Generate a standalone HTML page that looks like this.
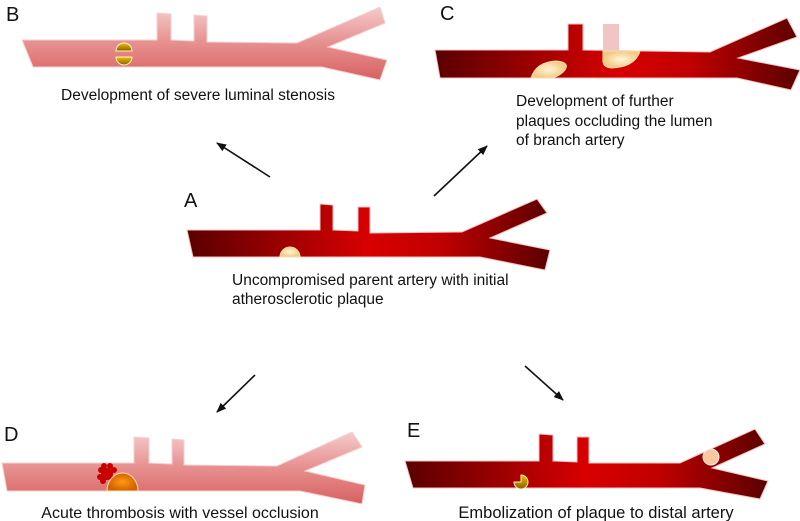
<!DOCTYPE html>
<html><head><meta charset="utf-8"><style>
html,body{margin:0;padding:0;background:#fff;width:800px;height:521px;overflow:hidden}
svg text{font-family:"Liberation Sans",sans-serif;fill:#111}
</style></head><body>
<svg width="800" height="521" viewBox="0 0 800 521" xmlns="http://www.w3.org/2000/svg">
<defs>
<linearGradient id="dA" gradientUnits="userSpaceOnUse" x1="187" y1="0" x2="550" y2="0">
<stop offset="0" stop-color="#5a0000"/><stop offset="0.5" stop-color="#d80000"/><stop offset="0.7" stop-color="#c00000"/><stop offset="1" stop-color="#5a0000"/></linearGradient>
<linearGradient id="dC" gradientUnits="userSpaceOnUse" x1="435" y1="0" x2="800" y2="0">
<stop offset="0" stop-color="#5a0000"/><stop offset="0.5" stop-color="#d80000"/><stop offset="0.7" stop-color="#c00000"/><stop offset="1" stop-color="#5a0000"/></linearGradient>
<linearGradient id="dE" gradientUnits="userSpaceOnUse" x1="405" y1="0" x2="768" y2="0">
<stop offset="0" stop-color="#5a0000"/><stop offset="0.5" stop-color="#d80000"/><stop offset="0.7" stop-color="#c00000"/><stop offset="1" stop-color="#5a0000"/></linearGradient>
<linearGradient id="pB" gradientUnits="userSpaceOnUse" x1="0" y1="7" x2="0" y2="80">
<stop offset="0" stop-color="#f5cccc"/><stop offset="0.45" stop-color="#e89494"/><stop offset="1" stop-color="#d86060"/></linearGradient>
<linearGradient id="pD" gradientUnits="userSpaceOnUse" x1="0" y1="432" x2="0" y2="504">
<stop offset="0" stop-color="#f5cccc"/><stop offset="0.45" stop-color="#e89494"/><stop offset="1" stop-color="#d86060"/></linearGradient>
<radialGradient id="pl"><stop offset="0" stop-color="#fff6d8"/><stop offset="1" stop-color="#f4c880"/></radialGradient>
<linearGradient id="gold" x1="0" y1="0" x2="0" y2="1"><stop offset="0" stop-color="#f0c000"/><stop offset="1" stop-color="#8a6000"/></linearGradient>
<radialGradient id="org"><stop offset="0" stop-color="#ff9a10"/><stop offset="1" stop-color="#d06000"/></radialGradient>
<marker id="ar" markerWidth="10" markerHeight="8" refX="9" refY="4" orient="auto" markerUnits="userSpaceOnUse"><path d="M0,0 L10,4 L0,8 Z" fill="#111"/></marker>
</defs>

<!-- B -->
<text x="6" y="21" font-size="20">B</text>
<polygon points="22,40 157,40 157,13 171,14 171,40 194,41 194,15 207,16 207,42 297,43 380,7 385,23 328,47 387,60 380,80 322,67 33,67" fill="url(#pB)" stroke="#f6d0d0" stroke-width="1"/>
<path d="M116,51 a8,8 0 0 1 16,0 Z" fill="url(#gold)" stroke="#fff3c0" stroke-width="1"/>
<path d="M116,57 a8,8 0 0 0 16,0 Z" fill="url(#gold)" stroke="#fff3c0" stroke-width="1"/>
<text x="198" y="100" font-size="15.5" text-anchor="middle">Development of severe luminal stenosis</text>

<!-- C -->
<text x="440" y="20" font-size="20">C</text>
<polygon points="435,50 568,50 568,24 583,24 583,50 710,52 787,18 797,37 738,58 800,70 791,90 737,78 440,78" fill="url(#dC)" stroke="#f6c0c0" stroke-width="1"/>
<rect x="603" y="24" width="16" height="28" fill="#f2c4c4"/>
<path d="M531,78 Q536,62 556,61 Q570,62 565,70 Q558,78 548,78 Z" fill="url(#pl)" stroke="#f0e0b0" stroke-width="1"/>
<path d="M603,51 L640,51 Q636,64 620,67 Q604,70 603,62 Z" fill="url(#pl)" stroke="#f0e0b0" stroke-width="1"/>
<text font-size="15.5"><tspan x="516" y="106">Development of further</tspan><tspan x="516" y="126">plaques occluding the lumen</tspan><tspan x="516" y="145">of branch artery</tspan></text>

<!-- arrows -->
<line x1="270" y1="177" x2="217" y2="143" stroke="#111" stroke-width="1.6" marker-end="url(#ar)"/>
<line x1="434" y1="196" x2="487" y2="146" stroke="#111" stroke-width="1.6" marker-end="url(#ar)"/>
<line x1="255" y1="375" x2="217" y2="412" stroke="#111" stroke-width="1.6" marker-end="url(#ar)"/>
<line x1="525" y1="366" x2="563" y2="400" stroke="#111" stroke-width="1.6" marker-end="url(#ar)"/>

<!-- A -->
<text x="184" y="207" font-size="20">A</text>
<polygon points="187,230 320,230 320,204 333,205 333,230 358,231 358,207 370,207 370,233 462,232 537,199 547,213 490,238 550,250 545,270 480,257 193,257" fill="url(#dA)" stroke="#f6c0c0" stroke-width="1"/>
<path d="M280,257 a10,10 0 0 1 20,0 Z" fill="url(#pl)" stroke="#f0e0b0" stroke-width="1"/>
<text font-size="15.5"><tspan x="232" y="285">Uncompromised parent artery with initial</tspan><tspan x="232" y="304">atherosclerotic plaque</tspan></text>

<!-- D -->
<text x="4" y="441" font-size="20">D</text>
<polygon points="2,463 134,463 134,437 149,438 149,463 172,464 172,439 184,440 184,465 277,466 352,432 362,447 305,471 365,485 362,504 300,491 7,491" fill="url(#pD)" stroke="#f6d0d0" stroke-width="1"/>
<g fill="#c80000"><circle cx="107" cy="474" r="6"/><circle cx="101" cy="470" r="3"/><circle cx="104" cy="466" r="3"/><circle cx="110" cy="466" r="3"/><circle cx="114" cy="470" r="3"/><circle cx="100" cy="477" r="3"/><circle cx="103" cy="481" r="3"/></g>
<path d="M107,491 a15.5,18 0 0 1 31,0 Z" fill="url(#org)" stroke="#ffe0b0" stroke-width="1"/>
<text x="180" y="518" font-size="16" text-anchor="middle">Acute thrombosis with vessel occlusion</text>

<!-- E -->
<text x="407" y="437" font-size="20">E</text>
<polygon points="405,461 539,461 539,434 553,435 553,461 577,462 577,437 589,437 589,463 680,463 755,429 765,444 712,468 768,481 760,499 700,488 413,488" fill="url(#dE)" stroke="#f6c0c0" stroke-width="1"/>
<path d="M521,482 L521,475 A7,7 0 1 1 514,482 Z" fill="url(#gold)" stroke="#fff0c0" stroke-width="1"/>
<circle cx="711" cy="457" r="8" fill="#f8c8a0" stroke="#fff0e0" stroke-width="1"/>
<text x="596" y="518" font-size="16.5" text-anchor="middle">Embolization of plaque to distal artery</text>
</svg>
</body></html>
